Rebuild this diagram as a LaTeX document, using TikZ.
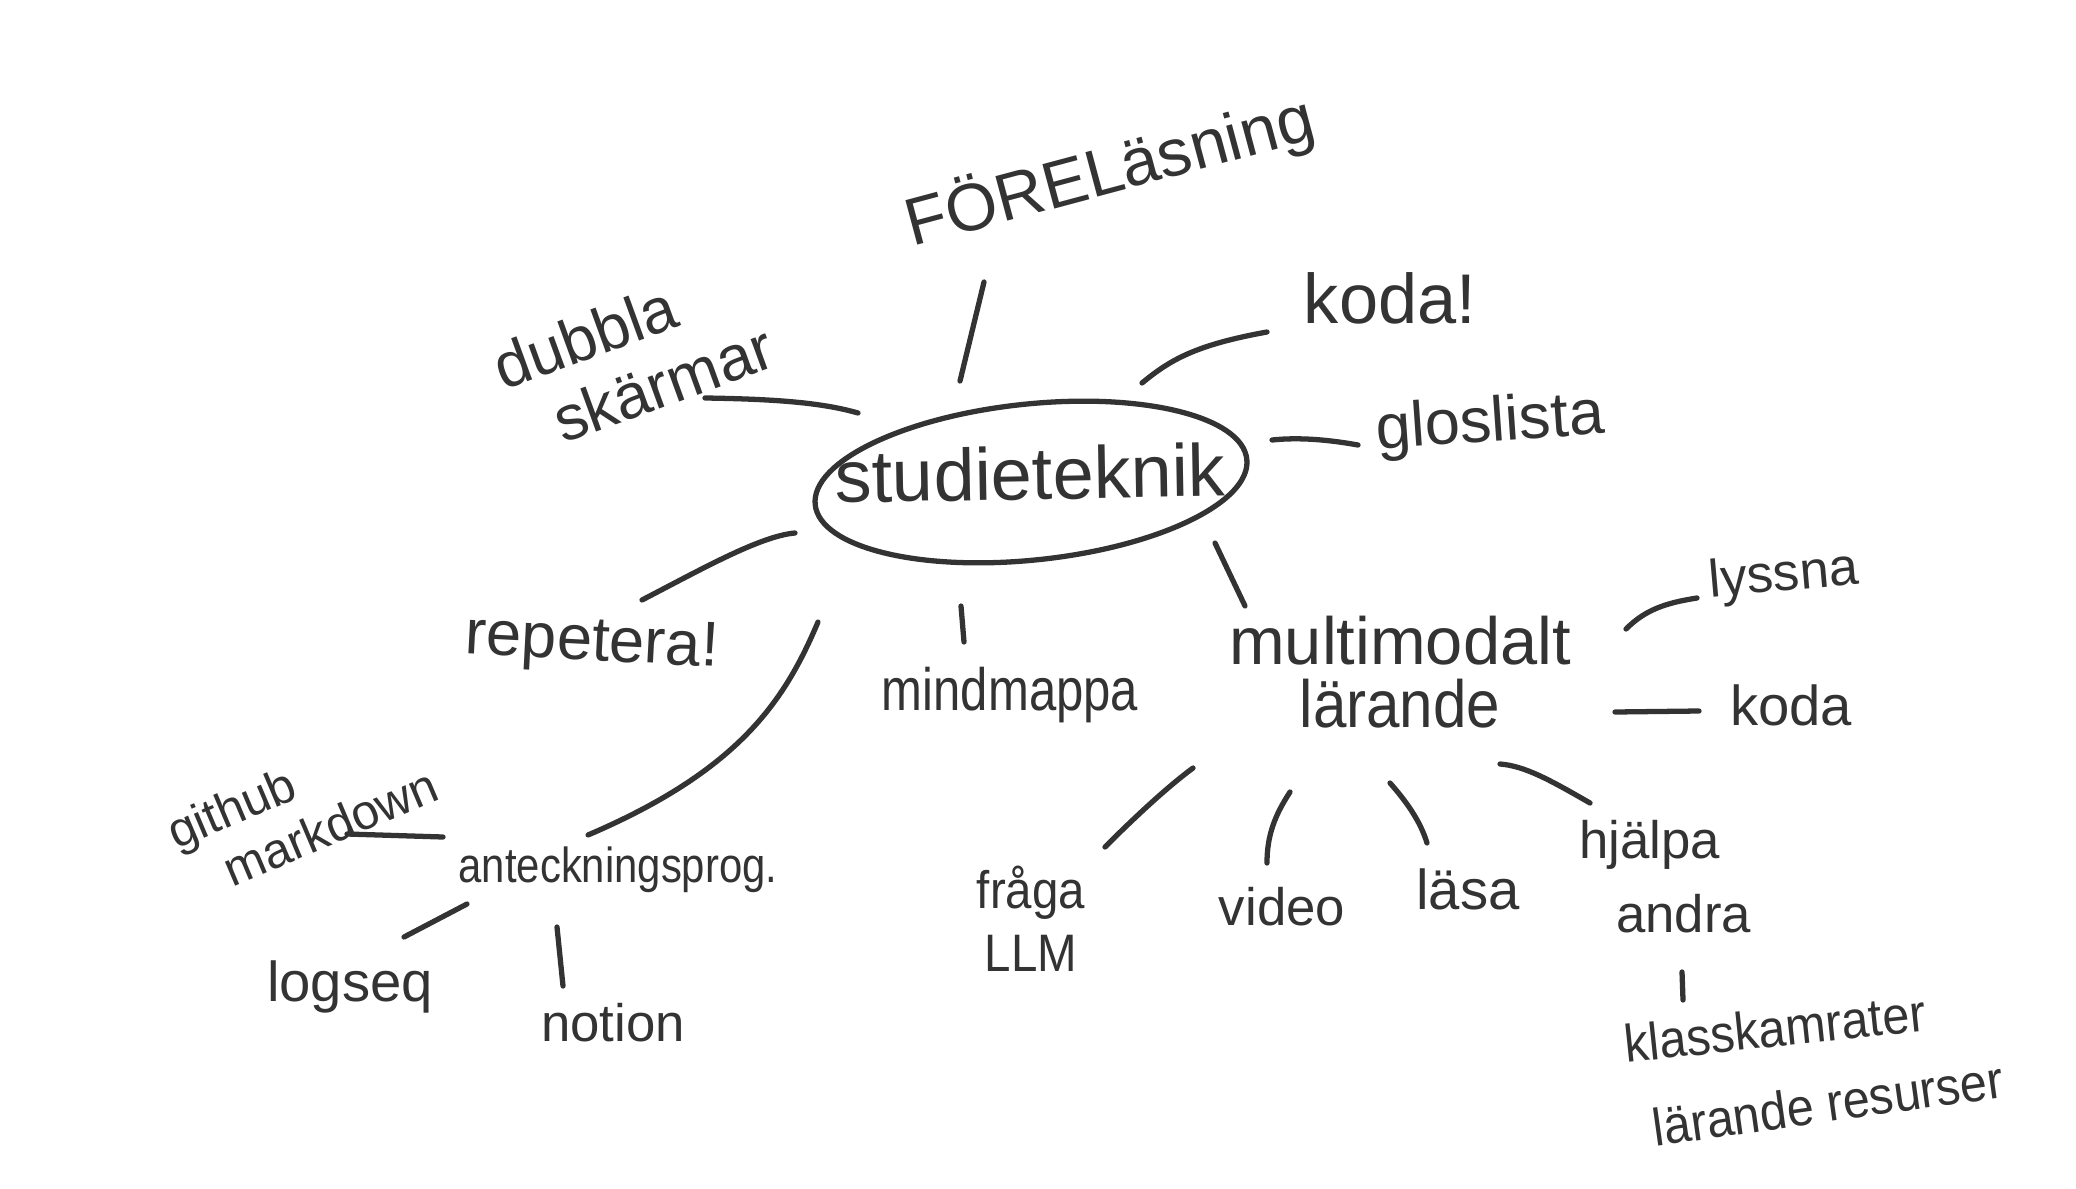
\documentclass[tikz,border=0pt]{standalone}
\usepackage{fontspec}
\setmainfont{Liberation Sans}
\definecolor{ink}{HTML}{333333}
\newcommand{\hwx}[2]{\scalebox{#1}[1]{#2}}
\tikzset{
  lbl/.style={text=ink, inner sep=0pt, align=center},
  con/.style={draw=ink, line width=1.5pt, line cap=round},
  sz/.style 2 args={font=\fontsize{#1}{#2}\selectfont}
}
\begin{document}
\begin{tikzpicture}[x=0.01cm,y=-0.01cm]
\useasboundingbox[fill=white] (0,0) rectangle (2076,1188);

% centre
\node[lbl, sz={21}{25}, rotate=1] (studie) at (1030,473) {studieteknik};
\draw[con, rotate around={6:(1031,482)}] (1031,482) ellipse [x radius=217, y radius=78];

% first ring
\node[lbl, sz={19}{23}, rotate=15] (forel) at (1110,172) {FÖRELäsning};
\node[lbl, sz={20}{24}] (koda1) at (1390,298) {koda!};
\node[lbl, sz={18}{22}, rotate=4] (glos) at (1490,425) {gloslista};
\node[lbl, sz={18}{20}, rotate=20, align=left] (dubbla) at (633,357) {dubbla\\\hspace*{0.6em}skärmar};
\node[lbl, sz={18}{22}, rotate=-3] (repet) at (592,645) {repetera!};
\node[lbl, sz={17}{20}] (mind) at (1010,695) {\hwx{0.82}{mindmappa}};
\node[lbl, sz={19}{18}] (multi) at (1400,672) {multimodalt\\\hwx{0.9}{lärande}};
\node[lbl, sz={14}{16}] (antek) at (618,870) {\hwx{0.85}{anteckningsprog.}};

% multimodalt branches
\node[lbl, sz={15}{18}, rotate=5] (lyssna) at (1784,577) {lyssna};
\node[lbl, sz={16}{19}] (koda2) at (1791,705) {koda};
\node[lbl, sz={15}{18}] (fraga) at (1031,919) {\hwx{0.9}{fråga}\\\hwx{0.9}{LLM}};
\node[lbl, sz={15}{18}] (video) at (1282,907) {video};
\node[lbl, sz={16}{19}] (lasa) at (1468,889) {läsa};
\node[lbl, sz={15}{21}, align=left] (hjalpa) at (1665,877) {hjälpa\\\hspace*{0.7em}andra};
\node[lbl, sz={15}{17}, rotate=6] (klass) at (1775,1028) {\hwx{0.92}{klasskamrater}};
\node[lbl, sz={15}{17}, rotate=8] (resurs) at (1828,1103) {\hwx{0.92}{lärande resurser}};

% anteckningsprog branches
\node[lbl, sz={14}{16}, rotate=23, align=left] (github) at (302,808) {github\\\hspace*{0.75em}markdown};
\node[lbl, sz={16}{19}] (logseq) at (350,987) {logseq};
\node[lbl, sz={15}{18}] (notion) at (613,1023) {notion};

% connector end points
\coordinate (f1) at (984,282);  \coordinate (f2) at (960,381);
\coordinate (k1) at (1142,383); \coordinate (k2) at (1267,332);
\coordinate (g1) at (1272,440); \coordinate (g2) at (1358,445);
\coordinate (d1) at (858,413);  \coordinate (d2) at (705,398);
\coordinate (r1) at (795,533);  \coordinate (r2) at (642,600);
\coordinate (a1) at (818,622);  \coordinate (a2) at (588,835);
\coordinate (m1) at (961,606);  \coordinate (m2) at (964,642);
\coordinate (u1) at (1215,543); \coordinate (u2) at (1245,606);
\coordinate (l1) at (1626,629); \coordinate (l2) at (1697,598);
\coordinate (o1) at (1615,712); \coordinate (o2) at (1699,711);
\coordinate (q1) at (1193,768); \coordinate (q2) at (1105,847);
\coordinate (v1) at (1290,792); \coordinate (v2) at (1267,863);
\coordinate (s1) at (1390,783); \coordinate (s2) at (1427,843);
\coordinate (h1) at (1500,764); \coordinate (h2) at (1590,803);
\coordinate (c1) at (1682,972); \coordinate (c2) at (1683,1000);
\coordinate (gh1) at (443,837); \coordinate (gh2) at (347,834);
\coordinate (lg1) at (467,904); \coordinate (lg2) at (404,937);
\coordinate (nt1) at (557,927); \coordinate (nt2) at (563,986);

% connectors
\draw[con] (f1) -- (f2);
\draw[con] (k1) .. controls (1170,360) and (1195,345) .. (k2);
\draw[con] (g1) .. controls (1300,437) and (1330,440) .. (g2);
\draw[con] (d2) .. controls (770,399) and (820,402) .. (d1);
\draw[con] (r1) .. controls (760,536) and (700,570) .. (r2);
\draw[con] (a1) .. controls (785,700) and (740,770) .. (a2);
\draw[con] (m1) -- (m2);
\draw[con] (u1) -- (u2);
\draw[con] (l1) .. controls (1645,610) and (1665,603) .. (l2);
\draw[con] (o1) -- (o2);
\draw[con] (q1) .. controls (1170,785) and (1140,812) .. (q2);
\draw[con] (v1) .. controls (1275,815) and (1267,835) .. (v2);
\draw[con] (s1) .. controls (1405,800) and (1420,820) .. (s2);
\draw[con] (h1) .. controls (1525,766) and (1550,780) .. (h2);
\draw[con] (c1) -- (c2);
\draw[con] (gh1) -- (gh2);
\draw[con] (lg1) -- (lg2);
\draw[con] (nt1) -- (nt2);
\end{tikzpicture}
\end{document}
